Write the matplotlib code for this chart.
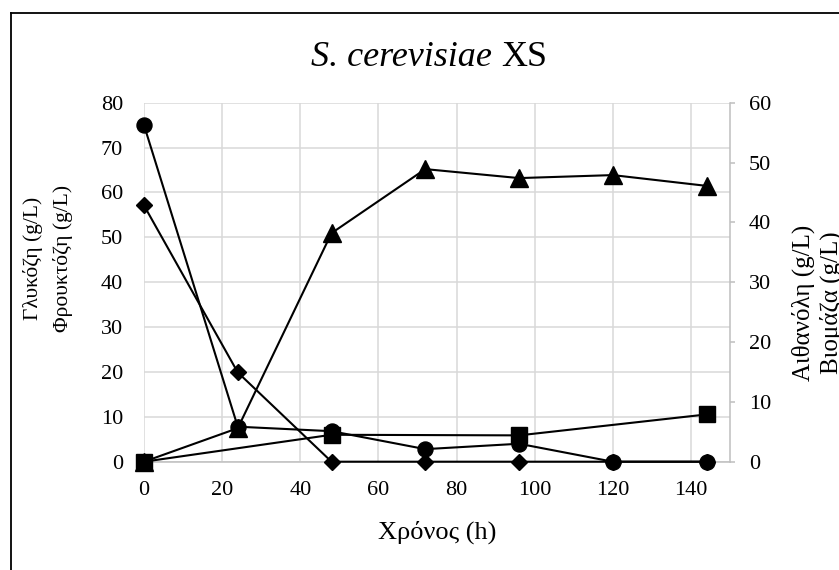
import matplotlib
matplotlib.use("Agg")
import matplotlib.pyplot as plt
from matplotlib.lines import Line2D

# ---- data ----
time_h = [0, 24, 48, 72, 96, 120, 144]
glucose = [75.0, 7.8, 6.8, 2.8, 4.0, 0.0, 0.0]
fructose = [57.1, 19.9, 0.0, 0.0, 0.0, 0.0, 0.0]
ethanol = [0.0, 5.6, 38.2, 48.9, 47.4, 47.9, 46.1]
biomass_time = [0, 48, 96, 144]
biomass = [0.0, 4.5, 4.4, 7.9]

left_ticks = [0, 10, 20, 30, 40, 50, 60, 70, 80]
right_ticks = [0, 10, 20, 30, 40, 50, 60]
x_ticks = [0, 20, 40, 60, 80, 100, 120, 140]

plt.rcParams['font.family'] = ['Liberation Serif', 'DejaVu Serif']

W, H = 839, 570
fig = plt.figure(figsize=(W / 100, H / 100), dpi=100)

x0, x1 = 144, 730
y_top, y_bot = 102.7, 461.7
ax = fig.add_axes([x0 / W, 1 - y_bot / H, (x1 - x0) / W, (y_bot - y_top) / H])
ax2 = ax.twinx()

grid_c = '#d9d9d9'
spine_c = '#bfbfbf'

ax.set_xlim(0, 150)
ax.set_ylim(0, 80)
ax2.set_ylim(0, 60)
ax.set_xticks(x_ticks)
ax.set_yticks(left_ticks)
ax2.set_yticks(right_ticks)

ax.grid(True, color=grid_c, linewidth=1.1)
ax.set_axisbelow(True)
for s in ['top', 'left', 'right']:
    ax.spines[s].set_visible(False)
ax.spines['bottom'].set_color(spine_c)
ax.spines['bottom'].set_linewidth(1.1)
for s in ['top', 'left', 'bottom']:
    ax2.spines[s].set_visible(False)
ax2.spines['right'].set_color(spine_c)
ax2.spines['right'].set_linewidth(1.1)

ax.tick_params(axis='x', length=0, pad=14, labelsize=16)
ax.tick_params(axis='y', length=0, pad=15, labelsize=16)
ax2.tick_params(axis='y', length=3.5, width=1.1, color=spine_c, pad=10, labelsize=16)

lw = 1.5
ax.plot(time_h, glucose, color='black', lw=lw, marker='o', ms=10.8, zorder=3, clip_on=False)
ax.plot(time_h, fructose, color='black', lw=lw, marker='D', ms=8.5, zorder=3, clip_on=False)
ax2.plot(time_h, ethanol, color='black', lw=lw, marker='^', ms=13, zorder=3, clip_on=False)
ax2.plot(biomass_time, biomass, color='black', lw=lw, marker='s', ms=12, zorder=3, clip_on=False)

# title: italic species name + upright strain code, centred as a whole
title_fs = 26
ty = 1 - 58 / H
t1 = fig.text(0, ty, 'S. cerevisiae ', ha='left', va='center', fontsize=title_fs, style='italic')
t2 = fig.text(0, ty, 'XS', ha='left', va='center', fontsize=title_fs)
renderer = fig.canvas.get_renderer()
w1 = t1.get_window_extent(renderer).width
w2 = t2.get_window_extent(renderer).width
start = 429 - (w1 + w2) / 2
t1.set_x(start / W)
t2.set_x((start + w1) / W)

fig.text(437 / W, 1 - 532 / H, 'Χρόνος (h)', ha='center', va='center', fontsize=19)
fig.text(33 / W, 1 - 258 / H, 'Γλυκόζη (g/L)', ha='center', va='center', rotation=90, fontsize=15.5)
fig.text(63 / W, 1 - 258 / H, 'Φρουκτόζη (g/L)', ha='center', va='center', rotation=90, fontsize=15.5)
fig.text(803 / W, 1 - 303 / H, 'Αιθανόλη (g/L)', ha='center', va='center', rotation=90, fontsize=18)
fig.text(831 / W, 1 - 303 / H, 'Βιομάζα (g/L)', ha='center', va='center', rotation=90, fontsize=18)

# chart border (cropped: only left and top visible)
fig.add_artist(Line2D([11 / W, 11 / W], [0, 1 - 13 / H], color='black', lw=1.3, transform=fig.transFigure))
fig.add_artist(Line2D([11 / W, 1], [1 - 13 / H, 1 - 13 / H], color='black', lw=1.3, transform=fig.transFigure))

fig.savefig('out.png', dpi=100)
